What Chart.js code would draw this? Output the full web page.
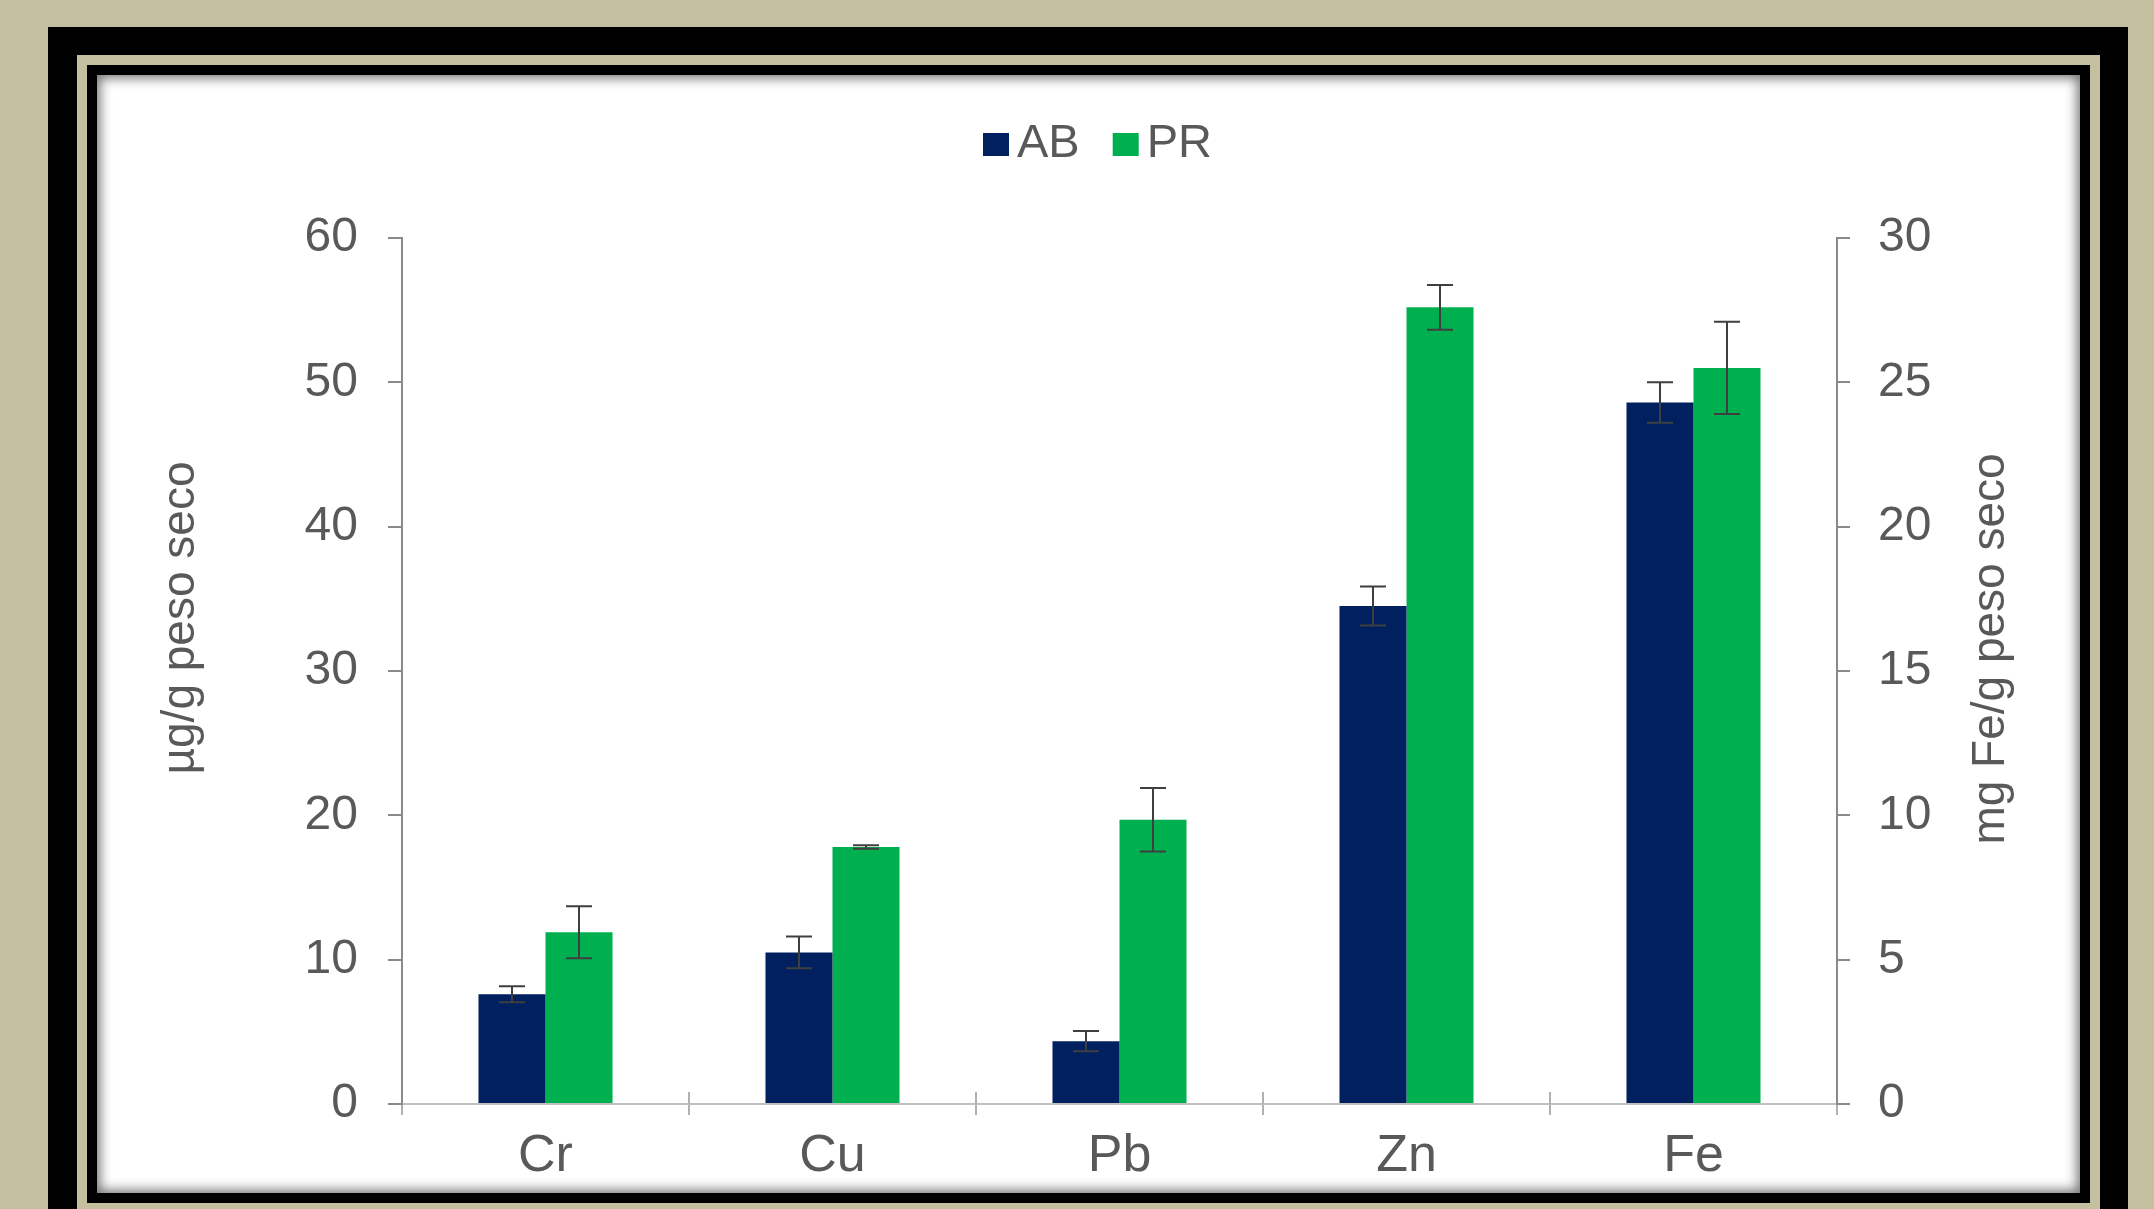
<!DOCTYPE html>
<html>
<head>
<meta charset="utf-8">
<script src="https://cdn.jsdelivr.net/npm/chart.js@4/dist/chart.umd.min.js"></script>
<style>
    html, body { margin: 0; padding: 0; }
    body {
        width: 2154px;
        height: 1209px;
        overflow: hidden;
        position: relative;
        background: #c4bf9f;
    }
    .band { position: absolute; }
    #outer { left: 48px; top: 27px; width: 2080px; height: 1300px; background: #000; }
    #gap { left: 77px; top: 55px; width: 2023px; height: 1300px; background: #c4bf9f; }
    #inner { left: 87px; top: 65px; width: 2003px; height: 1138px; background: #000; }
    #paper {
        left: 97px; top: 75px; width: 1983px; height: 1118px;
        background: #fff;
        box-shadow: inset 0 0 12px 3px rgba(0, 0, 0, 0.55);
    }
    #metalChart { position: absolute; left: 0; top: 0; }
</style>
</head>
<body>
<div class="band" id="outer"></div>
<div class="band" id="gap"></div>
<div class="band" id="inner"></div>
<div class="band" id="paper"></div>
<canvas id="metalChart" width="2154" height="1209"></canvas>

<script>
// Metal content per sample (Fe is given in mg/g and read on the right axis)
const categories = ['Cr', 'Cu', 'Pb', 'Zn', 'Fe'];
const seriesNames = ['AB', 'PR'];
const abMean = [7.6, 10.5, 4.35, 34.5, 24.3];
const prMean = [11.9, 17.8, 19.7, 55.2, 25.5];
const abErr = [0.55, 1.1, 0.7, 1.35, 0.7];
const prErr = [1.8, 0.12, 2.2, 1.55, 1.6];
const rightAxisCats = ['Fe'];

const leftTicks = [0, 10, 20, 30, 40, 50, 60];
const rightTicks = [0, 5, 10, 15, 20, 25, 30];

const FONT = "'Liberation Sans', Arial, sans-serif";
const TEXT = '#595959';
const AB_COLOR = '#002060';
const PR_COLOR = '#00b050';

// split a series into left-axis and right-axis parts
function pick(values, onRight) {
    return categories.map((c, i) => (rightAxisCats.includes(c) === onRight ? values[i] : null));
}

const datasets = [
    { label: seriesNames[0], data: pick(abMean, false), errors: pick(abErr, false), backgroundColor: AB_COLOR, yAxisID: 'y' },
    { label: seriesNames[1], data: pick(prMean, false), errors: pick(prErr, false), backgroundColor: PR_COLOR, yAxisID: 'y' },
    { label: seriesNames[0], data: pick(abMean, true), errors: pick(abErr, true), backgroundColor: AB_COLOR, yAxisID: 'y2' },
    { label: seriesNames[1], data: pick(prMean, true), errors: pick(prErr, true), backgroundColor: PR_COLOR, yAxisID: 'y2' }
];

// error bars with caps on both ends
const errorBars = {
    id: 'errorBars',
    afterDatasetsDraw(chart) {
        const ctx = chart.ctx;
        ctx.save();
        ctx.strokeStyle = '#3f3f3f';
        ctx.lineWidth = 2;
        chart.data.datasets.forEach((ds, di) => {
            const meta = chart.getDatasetMeta(di);
            const scale = chart.scales[meta.yAxisID];
            meta.data.forEach((bar, i) => {
                const v = ds.data[i];
                const e = ds.errors[i];
                if (v == null || e == null) return;
                const top = scale.getPixelForValue(v + e);
                const bot = scale.getPixelForValue(v - e);
                const cap = 13;
                ctx.beginPath();
                ctx.moveTo(bar.x, top);
                ctx.lineTo(bar.x, bot);
                ctx.moveTo(bar.x - cap, top);
                ctx.lineTo(bar.x + cap, top);
                ctx.moveTo(bar.x - cap, bot);
                ctx.lineTo(bar.x + cap, bot);
                ctx.stroke();
            });
        });
        ctx.restore();
    }
};

// legend, axis titles and the upper half of the category ticks
const decorations = {
    id: 'decorations',
    afterDraw(chart) {
        const ctx = chart.ctx;
        const area = chart.chartArea;
        ctx.save();

        // category boundary ticks above the x axis
        const xs = chart.scales.x;
        ctx.strokeStyle = '#b0b0b0';
        ctx.lineWidth = 2;
        for (let i = 1; i < categories.length; i++) {
            const px = Math.round(xs.getPixelForValue(i - 0.5));
            ctx.beginPath();
            ctx.moveTo(px, area.bottom - 12);
            ctx.lineTo(px, area.bottom);
            ctx.stroke();
        }

        // axis titles, both reading bottom to top
        ctx.fillStyle = TEXT;
        ctx.font = '46px ' + FONT;
        ctx.textAlign = 'center';
        ctx.textBaseline = 'middle';
        [['µg/g peso seco', area.left - 221, area.top + 380],
         ['mg Fe/g peso seco', area.right + 154, area.top + 411]].forEach(([txt, x, y]) => {
            ctx.save();
            ctx.translate(x, y);
            ctx.rotate(-Math.PI / 2);
            ctx.fillText(txt, 0, 0);
            ctx.restore();
        });

        // legend
        ctx.font = '47px ' + FONT;
        ctx.textAlign = 'left';
        const box = 26, gapText = 8, gapItem = 33;
        const items = chart.data.datasets.slice(0, 2);
        const widths = items.map(d => box + gapText + ctx.measureText(d.label).width);
        const total = widths.reduce((a, b) => a + b, 0) + gapItem * (items.length - 1);
        let x = (area.left + area.right) / 2 - 22 - total / 2;
        const cy = 144;
        items.forEach((d, i) => {
            ctx.fillStyle = d.backgroundColor;
            ctx.fillRect(x, cy - 11, box, 23);
            ctx.fillStyle = TEXT;
            ctx.fillText(d.label, x + box + gapText, cy);
            x += widths[i] + gapItem;
        });
        ctx.restore();
    }
};

new Chart(document.getElementById('metalChart'), {
    type: 'bar',
    data: { labels: categories, datasets: datasets },
    options: {
        responsive: false,
        animation: false,
        devicePixelRatio: 1,
        skipNull: true,
        categoryPercentage: 0.467,
        barPercentage: 1.0,
        layout: { padding: { top: 238, left: 0, right: 0, bottom: 0 } },
        plugins: {
            legend: { display: false },
            tooltip: { enabled: false }
        },
        scales: {
            x: {
                afterFit: s => { s.height = 105; },
                grid: { drawOnChartArea: false, tickLength: 11, color: '#b0b0b0', lineWidth: 2 },
                border: { display: true, color: '#c0c0c0', width: 2 },
                ticks: { color: TEXT, font: { family: FONT, size: 52 }, padding: 10 }
            },
            y: {
                position: 'left',
                min: 0,
                max: leftTicks[leftTicks.length - 1],
                afterFit: s => { s.width = 402; },
                afterBuildTicks: s => { s.ticks = leftTicks.map(v => ({ value: v })); },
                grid: { drawOnChartArea: false, tickLength: 14, color: '#8a8a8a', lineWidth: 2 },
                border: { display: true, color: '#8a8a8a', width: 2 },
                ticks: { color: TEXT, font: { family: FONT, size: 48 }, padding: 30 }
            },
            y2: {
                position: 'right',
                min: 0,
                max: rightTicks[rightTicks.length - 1],
                afterFit: s => { s.width = 317; },
                afterBuildTicks: s => { s.ticks = rightTicks.map(v => ({ value: v })); },
                grid: { drawOnChartArea: false, tickLength: 13, color: '#8a8a8a', lineWidth: 2 },
                border: { display: true, color: '#8a8a8a', width: 2 },
                ticks: { color: TEXT, font: { family: FONT, size: 48 }, padding: 28 }
            }
        }
    },
    plugins: [errorBars, decorations]
});
</script>
</body>
</html>
